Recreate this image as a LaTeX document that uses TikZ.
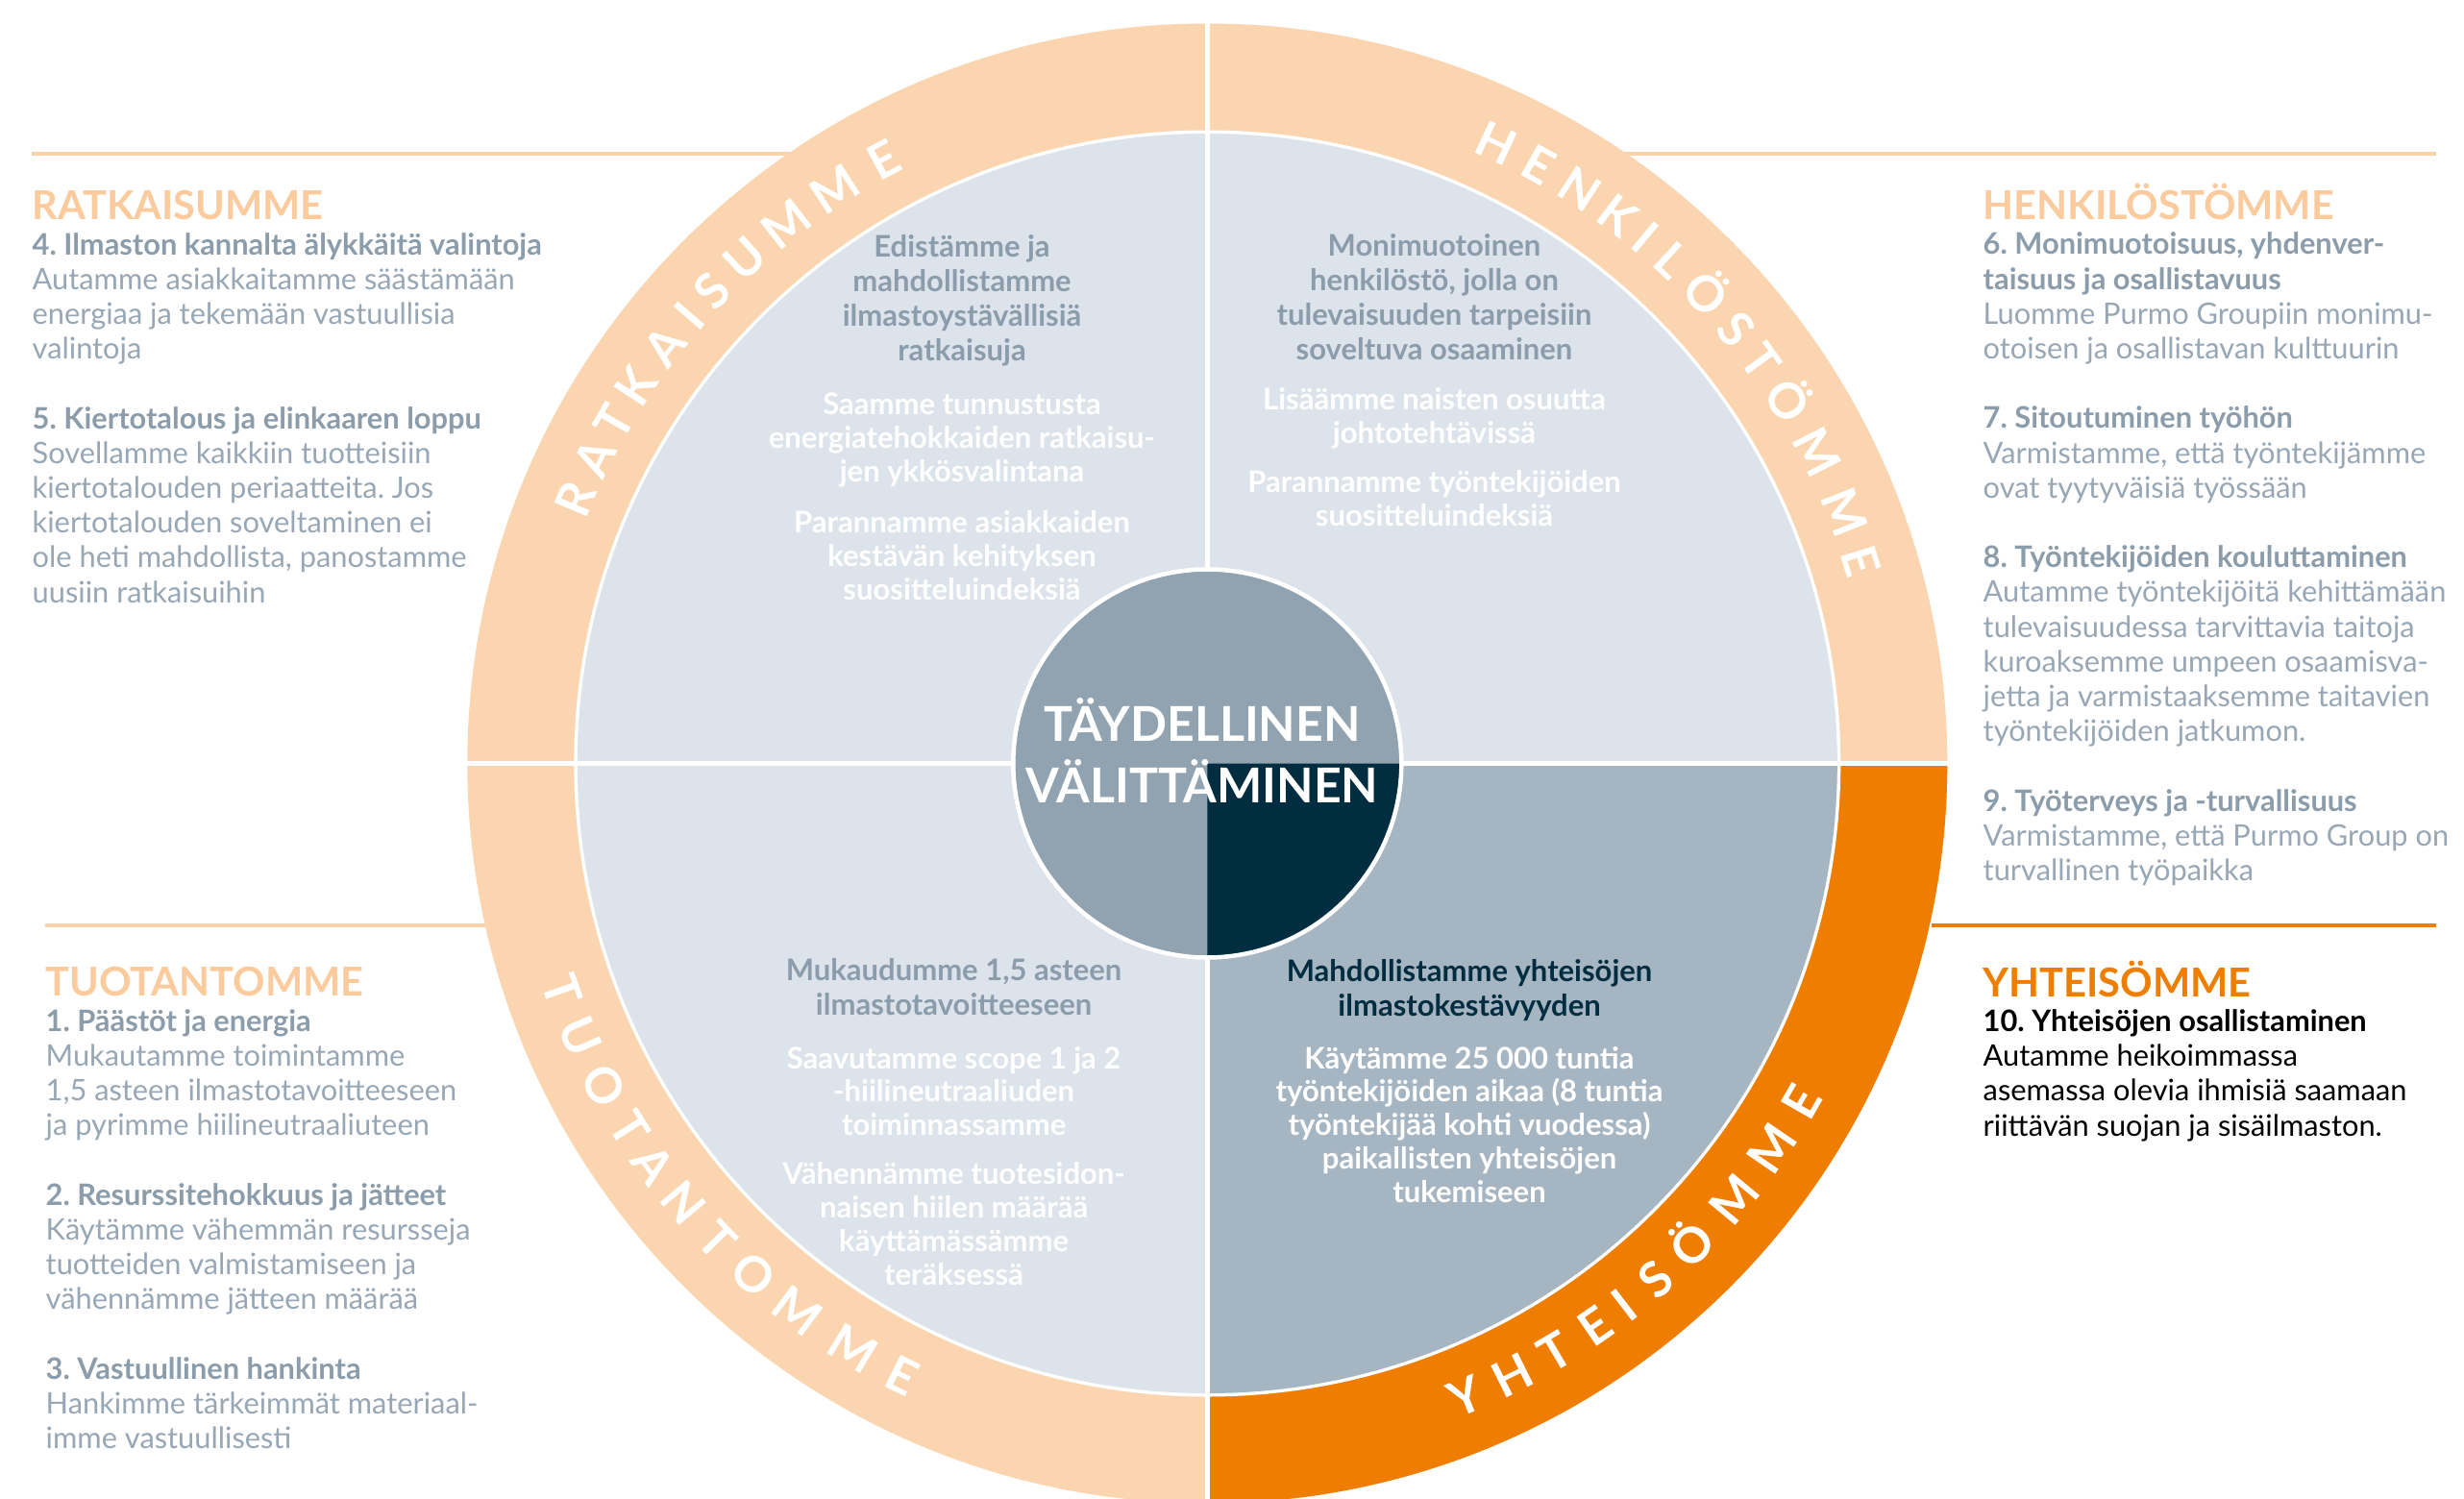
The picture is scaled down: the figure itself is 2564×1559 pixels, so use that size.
\documentclass[tikz,border=0pt]{standalone}
\usepackage{fontspec}
\setmainfont{Lato}
\frenchspacing

\definecolor{ringpeach}{HTML}{FBD5AF}
\definecolor{headpeach}{HTML}{FBCB9D}
\definecolor{linepeach}{HTML}{FAD2A9}
\definecolor{ringorange}{HTML}{EF7D00}
\definecolor{itemgrey}{HTML}{8B9CAB}
\definecolor{bodygrey}{HTML}{97A7B5}
\definecolor{disklight}{HTML}{DDE3EA}
\definecolor{diskblue}{HTML}{A6B5C2}
\definecolor{centregrey}{HTML}{91A3B1}
\definecolor{deepnavy}{HTML}{002D3F}

\newcommand\sidehead[2][headpeach]{{\fontsize{4.15mm}{3.62mm}\selectfont\bfseries\color{#1}#2}}
\newcommand\itemhead[2][itemgrey]{{\bfseries\color{#1}#2}}

\tikzset{
	siderule/.style={line width=0.4mm},
	divider/.style={white, line width=0.47mm},
	% multi-line nodes sit on the baseline of their last line
	sidetext/.style={anchor=base west, inner sep=0pt, align=left, text=bodygrey, font=\fontsize{3.08mm}{3.62mm}\selectfont},
	disktext/.style={anchor=base, inner sep=0pt, align=center, font=\bfseries\fontsize{3.1mm}{3.6mm}\selectfont},
	diskhead/.style={disktext, text=itemgrey},
	diskwhite/.style={disktext, text=white, font=\bfseries\fontsize{3.1mm}{3.48mm}\selectfont},
	ringletter/.style={anchor=base, inner sep=0pt, text=white, font=\bfseries\fontsize{5.1mm}{5mm}\selectfont},
	centretext/.style={anchor=base, inner sep=0pt, text=white, font=\bfseries\fontsize{5mm}{5mm}\selectfont}
}

\begin{document}
\begin{tikzpicture}[x=0.1mm, y=0.1mm]

	%page
	\useasboundingbox (0,0) rectangle (2564,1559);
	\fill[white] (0,0) rectangle (2564,1559);

	%side rules
	\coordinate (tl1) at (33,1398.5);
	\coordinate (tl2) at (877,1398.5);
	\coordinate (tr1) at (1637,1398.5);
	\coordinate (tr2) at (2535,1398.5);
	\coordinate (bl1) at (47,596);
	\coordinate (bl2) at (544,596);
	\coordinate (br1) at (2010,596);
	\coordinate (br2) at (2535,596);

	\draw[siderule, linepeach] (tl1) -- (tl2);
	\draw[siderule, linepeach] (tr1) -- (tr2);
	\draw[siderule, linepeach] (bl1) -- (bl2);
	\draw[siderule, ringorange] (br1) -- (br2);

	%wheel
	\coordinate (c) at (1256.3,764.5);
	\begin{scope}[shift={(c)}]
		\fill[ringpeach] (0,0) circle (770);
		\fill[ringorange] (0,0) -- (0:770) arc (0:-90:770) -- cycle;
		\fill[white] (0,0) circle (659);
		\fill[disklight] (0,0) circle (655.5);
		\fill[diskblue] (0,0) -- (0:655.5) arc (0:-90:655.5) -- cycle;

		\draw[divider] (-775,0) -- (775,0);
		\draw[divider] (0,-775) -- (0,775);

		%ring words
		\foreach \a/\l [count=\i] in {157.3/R,153.5/A,150.1/T,146.5/K,142.4/A,139.2/I,136.3/S,132.5/U,128.0/M,123.0/M,118.2/E}
			\node[ringletter, rotate=\a-90] (rat\i) at (\a:694) {\l};
		\foreach \a/\l [count=\i] in {65.0/H,61.0/E,57.0/N,53.2/K,50.2/I,47.3/L,43.3/Ö,39.4/S,36.0/T,32.0/Ö,27.0/M,21.5/M,17.2/E}
			\node[ringletter, rotate=\a-90] (hen\i) at (\a:694) {\l};
		\foreach \a/\l [count=\i] in {199.4/T,203.5/U,208.1/O,212.3/T,215.9/A,220.0/N,224.2/T,228.4/O,233.2/M,238.8/M,243.5/E}
			\node[ringletter, rotate=\a+90] (tuo\i) at (\a:730) {\l};
		\foreach \a/\l [count=\i] in {-67.8/Y,-63.5/H,-59.4/T,-55.4/E,-52.4/I,-49.0/S,-44.8/Ö,-39.6/M,-34.3/M,-29.7/E}
			\node[ringletter, rotate=\a+90] (yht\i) at (\a:730) {\l};

		%centre
		\fill[centregrey] (0,0) circle (200);
		\fill[deepnavy] (0,0) -- (0:200) arc (0:-90:200) -- cycle;
		\draw[white, line width=0.45mm] (0,0) circle (202);
	\end{scope}

	\node[centretext] (care1) at (1251,787.3) {TÄYDELLINEN};
	\node[centretext] (care2) at (1251,724) {VÄLITTÄMINEN};

	%quadrant texts
	\node[diskhead] (solhead) at (1001,1183) {Edistämme ja\\ mahdollistamme\\ ilmastoystävällisiä\\ ratkaisuja};
	\node[diskwhite] (sol1) at (1001,1057.6) {Saamme tunnustusta\\ energiatehokkaiden ratkaisu-\\ jen ykkösvalintana};
	\node[diskwhite] (sol2) at (1001,934.7) {Parannamme asiakkaiden\\ kestävän kehityksen\\ suositteluindeksiä};

	\node[diskhead] (perhead) at (1492.5,1185) {Monimuotoinen\\ henkilöstö, jolla on\\ tulevaisuuden tarpeisiin\\ soveltuva osaaminen};
	\node[diskwhite] (per1) at (1492.5,1097.2) {Lisäämme naisten osuutta\\ johtotehtävissä};
	\node[diskwhite] (per2) at (1492.5,1011.8) {Parannamme työntekijöiden\\ suositteluindeksiä};

	\node[diskhead] (prohead) at (992.6,503) {Mukaudumme 1,5 asteen\\ ilmastotavoitteeseen};
	\node[diskwhite] (pro1) at (992.6,377.4) {Saavutamme scope 1 ja 2\\ -hiilineutraaliuden\\ toiminnassamme};
	\node[diskwhite] (pro2) at (992.6,221.9) {Vähennämme tuotesidon-\\ naisen hiilen määrää\\ käyttämässämme\\ teräksessä};

	\node[diskhead, text=deepnavy] (comhead) at (1529,502) {Mahdollistamme yhteisöjen\\ ilmastokestävyyden};
	\node[diskwhite] (com1) at (1529,307.8) {Käytämme 25 000 tuntia\\ työntekijöiden aikaa (8 tuntia\\ työntekijää kohti vuodessa)\\ paikallisten yhteisöjen\\ tukemiseen};

	%side texts
	\node[sidetext] (solside) at (33,932) {\sidehead{RATKAISUMME}\\
		\itemhead{4. Ilmaston kannalta älykkäitä valintoja}\\
		Autamme asiakkaitamme säästämään\\
		energiaa ja tekemään vastuullisia\\
		valintoja\\[3.62mm]
		\itemhead{5. Kiertotalous ja elinkaaren loppu}\\
		Sovellamme kaikkiin tuotteisiin\\
		kiertotalouden periaatteita. Jos\\
		kiertotalouden soveltaminen ei\\
		ole heti mahdollista, panostamme\\
		uusiin ratkaisuihin};

	\node[sidetext] (perside) at (2063,642.5) {\sidehead{HENKILÖSTÖMME}\\
		\itemhead{6. Monimuotoisuus, yhdenver-}\\
		\itemhead{taisuus ja osallistavuus}\\
		Luomme Purmo Groupiin monimu-\\
		otoisen ja osallistavan kulttuurin\\[3.62mm]
		\itemhead{7. Sitoutuminen työhön}\\
		Varmistamme, että työntekijämme\\
		ovat tyytyväisiä työssään\\[3.62mm]
		\itemhead{8. Työntekijöiden kouluttaminen}\\
		Autamme työntekijöitä kehittämään\\
		tulevaisuudessa tarvittavia taitoja\\
		kuroaksemme umpeen osaamisva-\\
		jetta ja varmistaaksemme taitavien\\
		työntekijöiden jatkumon.\\[3.62mm]
		\itemhead{9. Työterveys ja -turvallisuus}\\
		Varmistamme, että Purmo Group on\\
		turvallinen työpaikka};

	\node[sidetext] (proside) at (47,51.5) {\sidehead{TUOTANTOMME}\\
		\itemhead{1. Päästöt ja energia}\\
		Mukautamme toimintamme\\
		1,5 asteen ilmastotavoitteeseen\\
		ja pyrimme hiilineutraaliuteen\\[3.62mm]
		\itemhead{2. Resurssitehokkuus ja jätteet}\\
		Käytämme vähemmän resursseja\\
		tuotteiden valmistamiseen ja\\
		vähennämme jätteen määrää\\[3.62mm]
		\itemhead{3. Vastuullinen hankinta}\\
		Hankimme tärkeimmät materiaal-\\
		imme vastuullisesti};

	\node[sidetext, text=black] (comside) at (2063,377) {\sidehead[ringorange]{YHTEISÖMME}\\
		\itemhead[black]{10. Yhteisöjen osallistaminen}\\
		Autamme heikoimmassa\\
		asemassa olevia ihmisiä saamaan\\
		riittävän suojan ja sisäilmaston.};

\end{tikzpicture}
\end{document}
